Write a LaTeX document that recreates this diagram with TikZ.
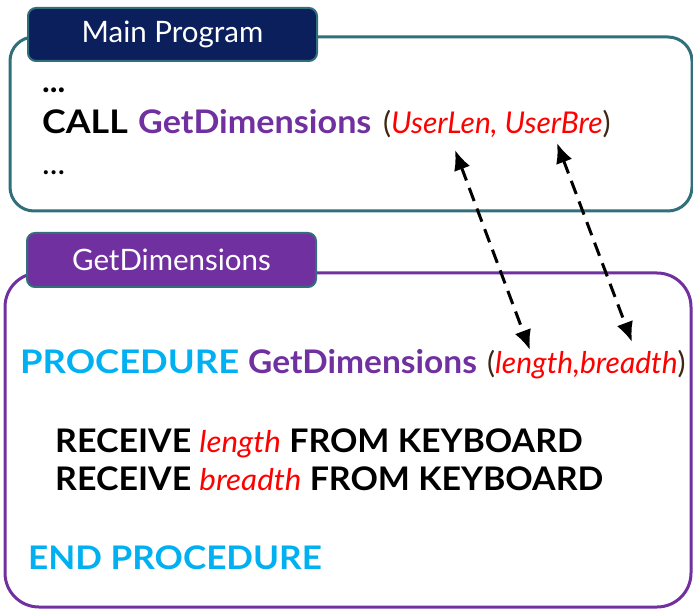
\documentclass[tikz,border=0pt]{standalone}
\usepackage{fontspec}
\setmainfont{Lato}
\usetikzlibrary{arrows.meta}
\definecolor{tealb}{RGB}{49,112,122}
\definecolor{navy}{RGB}{10,31,92}
\definecolor{purp}{RGB}{112,48,160}
\definecolor{cyanb}{RGB}{0,176,240}
\definecolor{redt}{RGB}{255,0,0}
\definecolor{paren}{RGB}{60,40,20}
\tikzset{
  outerbox/.style={line width=3pt, rounded corners=24pt},
  tabbox/.style={draw=tealb, line width=2pt, rounded corners=8pt},
  tabtext/.style={text=white, font=\fontsize{29.5}{32}\selectfont},
  code/.style={anchor=base west, inner sep=0pt, font=\bfseries\fontsize{32.5}{36}\selectfont},
  arg/.style={anchor=base west, inner sep=0pt, font=\fontsize{30}{32}\selectfont, text=paren},
  link/.style={line width=3pt, dash pattern=on 14pt off 8pt, {Latex[length=20pt,width=17pt]}-{Latex[length=20pt,width=17pt]}},
}
\newcommand{\argt}[1]{{\mdseries\itshape\fontsize{30}{32}\selectfont\color{redt}#1}}
\newcommand{\hs}[2]{\scalebox{#1}[1]{#2}}
\begin{document}
\begin{tikzpicture}[x=1pt,y=-1pt]
\useasboundingbox (0,0) rectangle (693,609);
% main program frame
\draw[outerbox, draw=tealb] (10,37) rectangle (692,211);
\node[tabbox, fill=navy, minimum width=289pt, minimum height=53pt] (maintab) at (172.5,34.5) {};
\node[tabtext] (maintitle) at (maintab.center) {Main Program};
\node[code] (dots1) at (42,93) {...};
\node[code] (callkw) at (42,134) {\hs{1.1}{CALL}};
\node[code, text=purp] (callname) at (138,134) {\hs{1.05}{GetDimensions}};
\node[arg] (callargs) at (383,134) {(\argt{UserLen, UserBre})};
\node[code] (dots2) at (42,175) {\mdseries...};
% procedure frame
\draw[outerbox, draw=purp, rounded corners=34pt] (5,273) rectangle (691,607);
\node[tabbox, fill=purp, minimum width=289pt, minimum height=54pt] (proctab) at (171.5,260) {};
\node[tabtext] (proctitle) at (proctab.center) {GetDimensions};
\node[code, text=cyanb] (prockw) at (20,373) {\hs{1.12}{PROCEDURE}};
\node[code, text=purp] (procname) at (248,373) {\hs{1.03}{GetDimensions}};
\node[arg] (procargs) at (487,373) {(\argt{length,breadth})};
\node[code] (rec1) at (55,452) {\hs{1.045}{RECEIVE \argt{length} FROM KEYBOARD}};
\node[code] (rec2) at (55,490) {\hs{1.045}{RECEIVE \argt{breadth} FROM KEYBOARD}};
\node[code, text=cyanb] (endp) at (28,569) {\hs{1.08}{END PROCEDURE}};
% parameter links
\coordinate (ulen) at (455,150);
\coordinate (plen) at (530,350);
\coordinate (ubre) at (557,143);
\coordinate (pbre) at (632,342);
\draw[link] (ulen) -- (plen);
\draw[link] (ubre) -- (pbre);
\end{tikzpicture}
\end{document}
